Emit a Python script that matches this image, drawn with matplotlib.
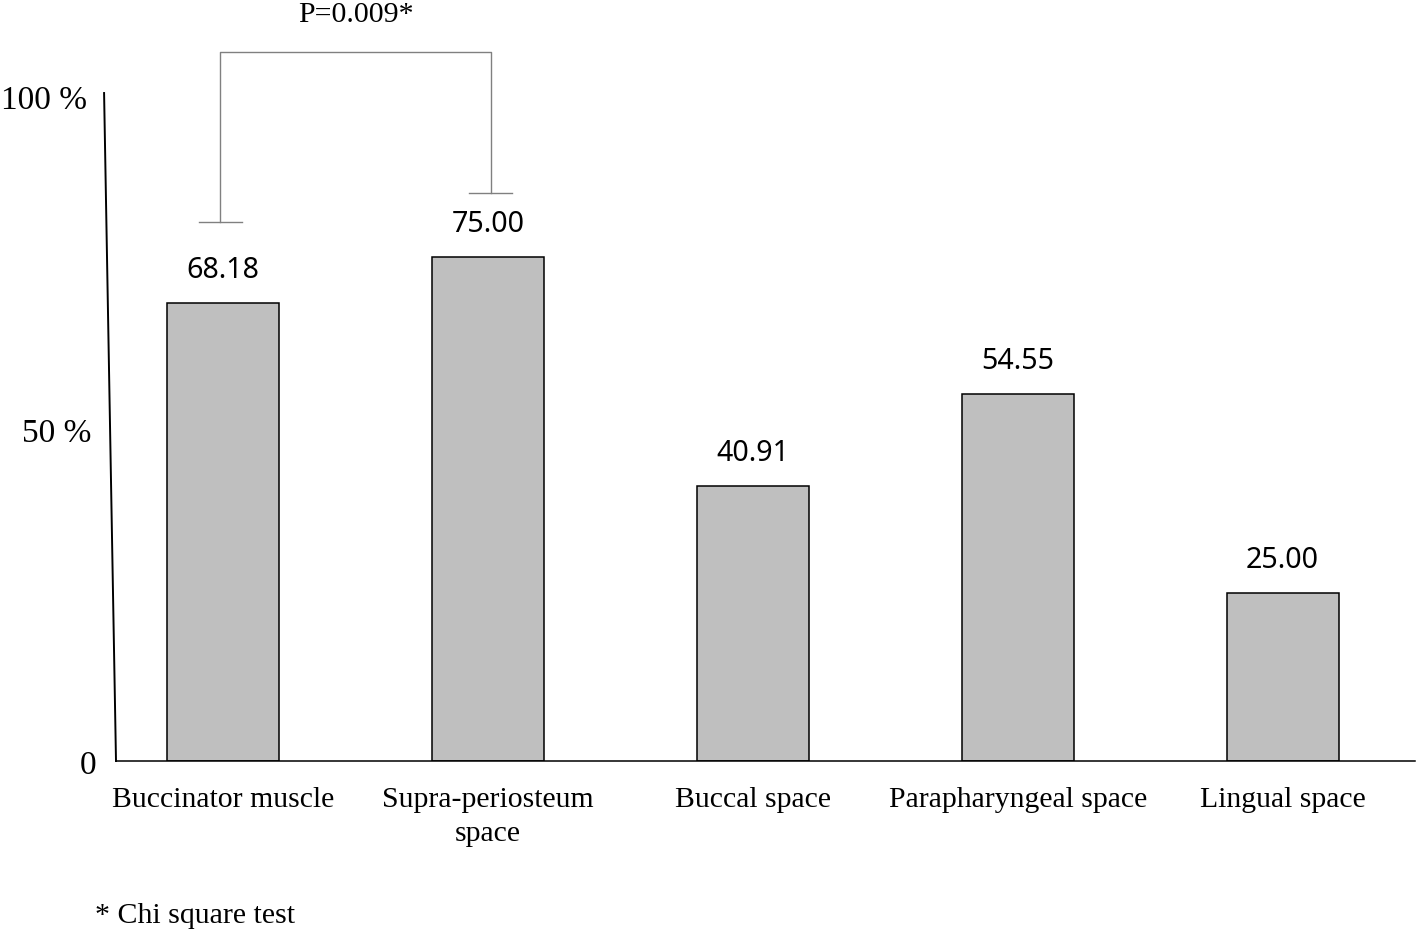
import matplotlib.pyplot as plt
from matplotlib.transforms import ScaledTranslation

categories = ["Buccinator muscle", "Supra-periosteum\nspace", "Buccal space",
              "Parapharyngeal space", "Lingual space"]
values = [68.18, 75.00, 40.91, 54.55, 25.00]
ytick_vals = [0, 50, 100]
ytick_labels = ["0", "50 %", "100 %"]
p_label = "P=0.009*"
footnote = "* Chi square test"

serif = "Liberation Serif"
sans = "Noto Sans"

W, H = 1418, 933
fig = plt.figure(figsize=(W / 100, H / 100), dpi=100)
ax = fig.add_axes([116 / W, (H - 761) / H, (1415 - 116) / W, (761 - 89) / H])

x = list(range(len(categories)))
bars = ax.bar(x, values, width=0.423, color="#bfbfbf", edgecolor="black", linewidth=1.1)
ax.set_xlim(-0.404, 4.5)
ax.set_ylim(0, 100)

for spine in ("left", "top", "right"):
    ax.spines[spine].set_visible(False)
ax.spines["bottom"].set_linewidth(1.1)

# slightly tilted y axis line as in the original
ax.plot([-0.449, -0.404], [99.4, 0], color="black", linewidth=1.4, clip_on=False)

ax.set_xticks(x)
ax.set_xticklabels(categories, fontfamily=serif, fontsize=21.4, linespacing=1.36)
ax.tick_params(axis="x", length=0, pad=19)
ax.set_yticks(ytick_vals)
ax.set_yticklabels(ytick_labels, fontfamily=serif, fontsize=24)
ax.tick_params(axis="y", length=0, pad=14)
# labels follow the tilted axis line
shifts = {"0": (0, -1), "50 %": (-5, -5), "100 %": (-10, -8)}
for lab in ax.get_yticklabels():
    dx, dy = shifts[lab.get_text()]
    lab.set_transform(lab.get_transform() + ScaledTranslation(dx / 100, dy / 100, fig.dpi_scale_trans))

for xi, v in zip(x, values):
    ax.annotate(f"{v:.2f}", (xi, v), xytext=(0, 13), textcoords="offset points",
                ha="center", va="bottom", fontfamily=sans, fontsize=20.6)

# significance bracket
gray = "#808080"
top = 105.5
ax.plot([-0.01, -0.01, 1.01, 1.01], [80.2, top, top, 84.5], color=gray, linewidth=1.0, clip_on=False)
ax.plot([-0.09, 0.07], [80.2, 80.2], color=gray, linewidth=1.0, clip_on=False)
ax.plot([0.93, 1.09], [84.5, 84.5], color=gray, linewidth=1.0, clip_on=False)
ax.text(0.5, 111.0, p_label, ha="center", va="center", fontfamily=serif, fontsize=21.5)

fig.text(95 / W, 1 - 916 / H, footnote, ha="left", va="center", fontfamily=serif, fontsize=21.5)

fig.savefig("out.png", dpi=100)
